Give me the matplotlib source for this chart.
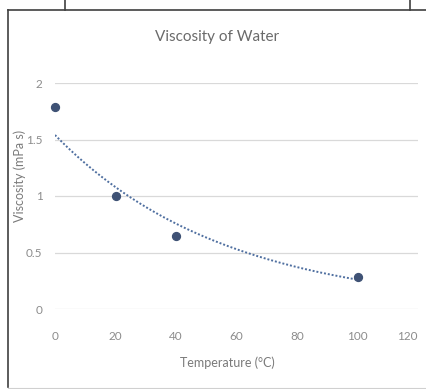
import numpy as np
import matplotlib
matplotlib.use("Agg")
from matplotlib import pyplot as plt
from matplotlib.lines import Line2D

# data
temperature = [0, 20, 40, 100]
viscosity = [1.79, 1.0, 0.65, 0.28]
x_ticks = [0, 20, 40, 60, 80, 100, 120]
y_ticks = [0, 0.5, 1, 1.5, 2]
y_tick_labels = ["0", "0.5", "1", "1.5", "2"]

plt.rcParams["font.family"] = ["Lato", "DejaVu Sans"]

W, H = 426, 389
fig = plt.figure(figsize=(W / 100, H / 100), dpi=100)
ax = fig.add_axes([55 / W, 1 - 309 / H, (418 - 55) / W, (309 - 83) / H])

grey = "#7a7a7a"

# exponential trendline (like the spreadsheet one), fitted on the data
coef = np.polyfit(temperature, np.log(viscosity), 1)
xs = np.linspace(min(temperature), max(temperature), 200)
ax.plot(xs, np.exp(np.polyval(coef, xs)), linestyle=(0, (1, 1)),
        color="#4f6fa0", linewidth=1.4, zorder=2)

ax.scatter(temperature, viscosity, s=32, color="#3f5275", zorder=3,
           clip_on=False)

ax.set_xlim(0, 120)
ax.set_ylim(0, 2)
ax.set_xticks(x_ticks)
ax.set_yticks(y_ticks)
ax.set_yticklabels(y_tick_labels)
ax.grid(True, axis="y", color="#d9d9d9", linewidth=0.9)
ax.set_axisbelow(True)
for side in ["top", "right", "left", "bottom"]:
    ax.spines[side].set_visible(False)
ax.tick_params(length=0, colors="#8c8c8c", labelsize=8.5)
ax.tick_params(axis="x", pad=16)
ax.tick_params(axis="y", pad=9)
for lbl in ax.get_xticklabels():
    if lbl.get_text() == "120":
        lbl.set_horizontalalignment("right")

fig.text(227 / W, 1 - 363 / H, "Temperature (°C)", ha="center",
         va="center", color=grey, fontsize=9)
fig.text(20 / W, 1 - 176 / H, "Viscosity (mPa s)", ha="center",
         va="center", rotation=90, color=grey, fontsize=9)
fig.text(217 / W, 1 - 37 / H, "Viscosity of Water", ha="center",
         va="center", color="#6a6a6a", fontsize=11)

# cell border around the chart
def fl(x0, y0, x1, y1, **kw):
    fig.add_artist(Line2D([x0 / W, x1 / W], [1 - y0 / H, 1 - y1 / H],
                          transform=fig.transFigure, **kw))

fl(8, 10, W, 10, color="#404040", linewidth=1.2)
fl(65, 0, 65, 10, color="#404040", linewidth=1.2)
fl(410, 0, 410, 10, color="#404040", linewidth=1.2)
fl(8, 10, 8, 387, color="#404040", linewidth=1.2)
fl(8, 388, W, 388, color="#d0d0d0", linewidth=0.8)

fig.savefig("out.png", dpi=100)
